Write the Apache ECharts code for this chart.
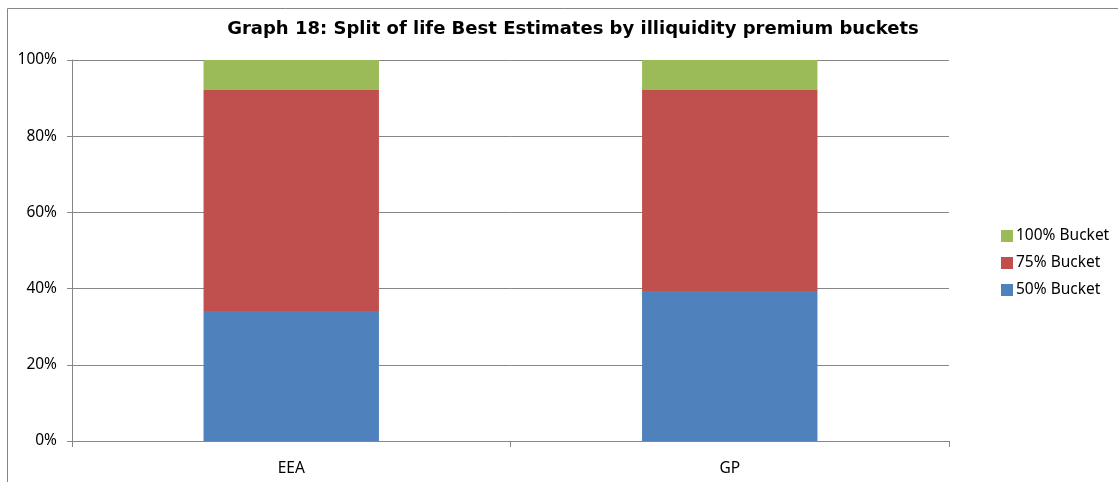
<!DOCTYPE html>
<html><head><meta charset="utf-8">
<script src="https://cdn.jsdelivr.net/npm/echarts@6/dist/echarts.min.js"></script>
<style>html,body{margin:0;padding:0;background:#fff}#c{width:1118px;height:482px}</style>
</head><body><div id="c"></div>
<script>
const categories = ['EEA', 'GP'];
const bucket50 = [34.1, 39.4];
const bucket75 = [58.0, 52.7];
const bucket100 = [7.9, 7.9];
const yTicks = [0, 20, 40, 60, 80, 100];

const chart = echarts.init(document.getElementById('c'), null, {renderer: 'canvas'});
const font = "'Noto Sans', 'Open Sans', sans-serif";
const mk = (name, data, color) => ({
  name, type: 'bar', stack: 'total', data, barWidth: '40%',
  itemStyle: {color}, emphasis: {disabled: true}
});
chart.setOption({
  animation: false,
  title: {
    text: 'Graph 18: Split of life Best Estimates by illiquidity premium buckets',
    left: 568, top: 15, textAlign: 'center',
    textStyle: {fontFamily: "'DejaVu Sans', Verdana, sans-serif", fontWeight: 'bold', fontSize: 18, color: '#000'}
  },
  graphic: [{
    type: 'rect', shape: {x: 7.5, y: 8.5, width: 1200, height: 600},
    style: {fill: 'none', stroke: '#868686', lineWidth: 1}, silent: true
  }],
  legend: {
    orient: 'vertical', left: 996, top: 223, itemWidth: 12, itemHeight: 12, itemGap: 11,
    icon: 'rect',
    data: ['100% Bucket', '75% Bucket', '50% Bucket'],
    textStyle: {fontFamily: font, fontSize: 15.5, color: '#000', padding: [0, 0, 0, -2]}
  },
  grid: {left: 72, right: 169, top: 60, bottom: 41},
  xAxis: {
    type: 'category', data: categories,
    axisLine: {lineStyle: {color: '#868686'}},
    axisTick: {show: true, length: 6, alignWithLabel: false, lineStyle: {color: '#868686'}},
    axisLabel: {fontFamily: font, fontSize: 15.5, color: '#000', margin: 20}
  },
  yAxis: {
    type: 'value', min: 0, max: 100, interval: 20,
    axisLine: {show: true, lineStyle: {color: '#868686'}},
    axisTick: {show: true, length: 5, lineStyle: {color: '#868686'}},
    splitLine: {lineStyle: {color: '#868686'}},
    axisLabel: {fontFamily: font, fontSize: 15.5, color: '#000', margin: 15,
      formatter: v => yTicks.includes(v) ? v + '%' : ''}
  },
  series: [
    mk('50% Bucket', bucket50, '#4f81bd'),
    mk('75% Bucket', bucket75, '#c0504d'),
    mk('100% Bucket', bucket100, '#9bbb59')
  ]
});
</script></body></html>
